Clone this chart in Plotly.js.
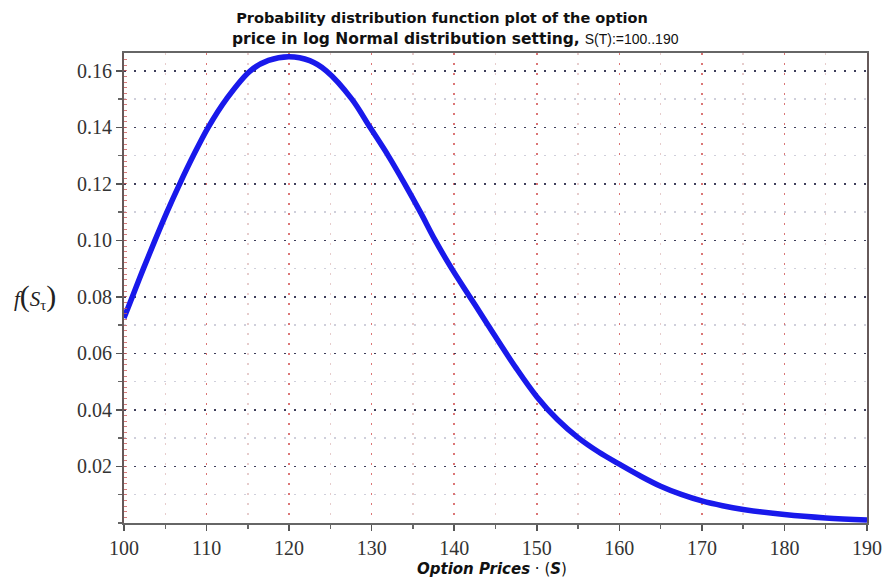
<!DOCTYPE html>
<html>
<head>
<meta charset="utf-8">
<script src="https://cdn.plot.ly/plotly-3.0.1.min.js"></script>
<style>html,body{margin:0;padding:0;background:#fff;}#chart{width:884px;height:586px;}</style>
</head>
<body>
<div id="chart"></div>
<script>
// Option price S(T) and read-off pdf values f(S_T)
const optionPrices = [100, 101.0, 102.35, 103.75, 105.2, 106.75, 108.4, 110.2, 112.4, 115.3, 117.5, 120, 122.5, 124.5, 127.6, 129.8, 132.0, 134.0, 135.9, 137.7, 139.7, 141.9, 144.1, 147.5, 150, 152.5, 155, 157.5, 160, 162.5, 165, 167.5, 170, 172.5, 175, 180, 185, 190];
const pdfValues = [0.0725, 0.080, 0.090, 0.100, 0.110, 0.120, 0.130, 0.140, 0.150, 0.160, 0.1637, 0.1650, 0.1636, 0.160, 0.150, 0.140, 0.130, 0.120, 0.110, 0.100, 0.090, 0.080, 0.070, 0.0548, 0.0447, 0.0366, 0.0302, 0.0251, 0.0208, 0.0167, 0.0130, 0.0101, 0.0078, 0.0061, 0.0048, 0.0030, 0.0018, 0.0011];
const xTickVals = [100, 110, 120, 130, 140, 150, 160, 170, 180, 190];
const yTickVals = [0.02, 0.04, 0.06, 0.08, 0.10, 0.12, 0.14, 0.16];
const yTickText = ["0.02", "0.04", "0.06", "0.08", "0.10", "0.12", "0.14", "0.16"];

const yRange = [0, 0.1663];
const tickFont = {family: "Liberation Serif, Times New Roman, serif", size: 20, color: "#333"};

const traces = [{
  x: optionPrices,
  y: pdfValues,
  type: "scatter",
  mode: "lines",
  line: {color: "rgb(25,25,235)", width: 5.5, shape: "spline", smoothing: 1},
  hoverinfo: "x+y",
  showlegend: false
}];

const layout = {
  width: 884,
  height: 586,
  margin: {l: 124, r: 17, t: 53, b: 63},
  paper_bgcolor: "#fff",
  plot_bgcolor: "#fff",
  showlegend: false,
  title: {
    text: "<b>Probability distribution function plot of the option</b>",
    x: 0.5, xref: "container", xanchor: "center",
    y: 1 - 18/586, yref: "container", yanchor: "middle",
    font: {family: "DejaVu Sans, Verdana, sans-serif", size: 14.5, color: "#111"}
  },
  xaxis: {
    range: [100, 190],
    tickmode: "array",
    tickvals: xTickVals,
    ticktext: xTickVals.map(String),
    tickfont: tickFont,
    ticks: "outside", ticklen: 6, tickwidth: 1.5, tickcolor: "#555",
    showline: true, linecolor: "#666", linewidth: 2, mirror: true,
    showgrid: true, gridcolor: "rgba(215,90,90,0.75)", gridwidth: 1.6, griddash: "2px,8px",
    zeroline: false,
    minor: {tick0: 100, dtick: 5, ticks: "outside", ticklen: 4, tickwidth: 1.5, tickcolor: "#666",
            showgrid: true, gridcolor: "rgba(215,170,170,0.6)", gridwidth: 1.5, griddash: "2px,8px"}
  },
  yaxis: {
    range: yRange,
    tickmode: "array",
    tickvals: yTickVals,
    ticktext: yTickText,
    tickfont: tickFont,
    ticks: "outside", ticklen: 6, tickwidth: 1.5, tickcolor: "#555",
    showline: true, linecolor: "#665a5a", linewidth: 2, mirror: true,
    showgrid: true, gridcolor: "rgba(45,45,75,0.9)", gridwidth: 1.6, griddash: "2px,8px",
    zeroline: false,
    minor: {tick0: 0, dtick: 0.01, ticks: "outside", ticklen: 4, tickwidth: 1.5, tickcolor: "#666",
            showgrid: true, gridcolor: "rgba(175,175,195,0.6)", gridwidth: 1.5, griddash: "2px,8px"}
  },
  yaxis2: {
    range: yRange, overlaying: "y", side: "left", anchor: "x",
    tickmode: "linear", tick0: 0, dtick: 0.002,
    ticks: "inside", ticklen: 3, tickwidth: 1, tickcolor: "rgba(205,90,90,0.8)",
    showticklabels: false, showgrid: false, zeroline: false, showline: false
  },
  annotations: [
    {
      text: "<b>price in log Normal distribution setting,</b> <span style=\"font-family:Liberation Sans, Arial, sans-serif;font-size:14px\">S(T):=100..190</span>",
      xref: "paper", yref: "paper",
      x: (455 - 124) / 743, y: (523 - 39) / 470, xanchor: "center", yanchor: "middle",
      showarrow: false,
      font: {family: "DejaVu Sans, Verdana, sans-serif", size: 15.5, color: "#111"}
    },
    {
      text: "<i>f</i><span style=\"font-size:30px\">(</span><i>S</i><sub>τ</sub><span style=\"font-size:30px\">)</span>",
      xref: "paper", yref: "paper",
      x: (35 - 124) / 743, y: (523 - 296) / 470, xanchor: "center", yanchor: "middle",
      showarrow: false,
      font: {family: "Liberation Serif, Times New Roman, serif", size: 21, color: "#222"}
    },
    {
      text: "<b><i>Option Prices</i></b> · (<b><i>S</i></b>)",
      xref: "paper", yref: "paper",
      x: (492 - 124) / 743, y: (523 - 569) / 470, xanchor: "center", yanchor: "middle",
      showarrow: false,
      font: {family: "DejaVu Sans, Verdana, sans-serif", size: 15, color: "#111"}
    }
  ]
};

traces.push({x: [100], y: [0], yaxis: "y2", type: "scatter", mode: "markers", marker: {opacity: 0}, hoverinfo: "skip", showlegend: false});

Plotly.newPlot("chart", traces, layout, {displayModeBar: false, staticPlot: true});
</script>
</body>
</html>
